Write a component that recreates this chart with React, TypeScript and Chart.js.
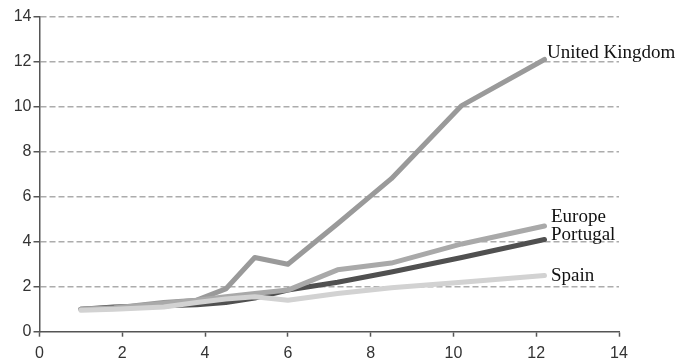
import React, { useEffect, useRef } from "react";
import { Chart, registerables } from "chart.js";

Chart.register(...registerables);

const xValues = [1, 1.8, 3, 3.8, 4.5, 5.2, 6, 7.2, 8.5, 10.2, 12.2];
const seriesNames = ["Spain", "Europe", "United Kingdom", "Portugal"];
const ukValues = [1.0, 1.05, 1.3, 1.4, 1.9, 3.3, 3.0, 4.8, 6.8, 10.05, 12.1];
const europeValues = [1.0, 1.05, 1.25, 1.4, 1.55, 1.7, 1.85, 2.75, 3.05, 3.9, 4.7];
const portugalValues = [1.0, 1.1, 1.15, 1.2, 1.3, 1.5, 1.85, 2.2, 2.65, 3.3, 4.1];
const spainValues = [0.95, 1.0, 1.1, 1.3, 1.45, 1.55, 1.4, 1.7, 1.95, 2.2, 2.5];
const yTickValues = [0, 2, 4, 6, 8, 10, 12, 14];
const xTickValues = [0, 2, 4, 6, 8, 10, 12, 14];

const seriesValues = [spainValues, europeValues, ukValues, portugalValues];
const seriesColors = ["#d2d2d2", "#a9a9a9", "#9a9a9a", "#505050"];
const labelOffsets = [
  [6.5, 6],
  [6.5, -4],
  [2.5, -1.5],
  [6.5, 1],
];

const endLabelPlugin = {
  id: "endLabels",
  afterDatasetsDraw(chart: any) {
    const ctx = chart.ctx;
    ctx.save();
    ctx.font = '19px "Liberation Serif", "Times New Roman", serif';
    ctx.fillStyle = "#111";
    ctx.textAlign = "left";
    ctx.textBaseline = "alphabetic";
    chart.data.datasets.forEach((ds: any, i: number) => {
      const meta = chart.getDatasetMeta(i);
      const pt = meta.data[meta.data.length - 1];
      if (!pt) return;
      const [dx, dy] = labelOffsets[i];
      ctx.fillText(ds.label, pt.x + dx, pt.y + dy);
    });
    ctx.restore();
  },
};

export default function App() {
  const ref = useRef<HTMLCanvasElement>(null);
  useEffect(() => {
    if (!ref.current) return;
    const tickFont = { family: '"Liberation Sans", Arial, sans-serif', size: 16 };
    const chart = new Chart(ref.current, {
      type: "line",
      data: {
        datasets: seriesNames.map((name, i) => ({
          label: name,
          data: xValues.map((x, j) => ({ x, y: seriesValues[i][j] })),
          borderColor: seriesColors[i],
          backgroundColor: seriesColors[i],
          borderWidth: 5,
          pointRadius: 0,
          tension: 0,
          borderCapStyle: "round",
          borderJoinStyle: "round",
          order: i,
        })),
      },
      options: {
        animation: false,
        responsive: false,
        devicePixelRatio: 1,
        layout: { padding: { left: 0, right: 79, top: 16.7, bottom: 0 } },
        plugins: {
          legend: { display: false },
          tooltip: { enabled: false },
          title: { display: false },
        },
        scales: {
          x: {
            type: "linear",
            min: 0,
            max: 14,
            afterBuildTicks: (scale: any) => {
              scale.ticks = xTickValues.map((v) => ({ value: v }));
            },
            afterFit: (scale: any) => {
              scale.height = 32.3;
            },
            ticks: { font: tickFont, color: "#333", padding: 7 },
            grid: {
              drawOnChartArea: false,
              drawTicks: true,
              tickLength: 5,
              tickColor: "#555",
              tickWidth: 1.5,
            },
            border: { display: true, color: "#555", width: 1.5 },
          },
          y: {
            type: "linear",
            min: 0,
            max: 14,
            afterBuildTicks: (scale: any) => {
              scale.ticks = yTickValues.map((v) => ({ value: v }));
            },
            afterFit: (scale: any) => {
              scale.width = 39.5;
            },
            ticks: { font: tickFont, color: "#333", padding: 2 },
            grid: {
              drawOnChartArea: true,
              drawTicks: true,
              tickLength: 6,
              tickColor: "#555",
              tickWidth: 1.5,
              tickBorderDash: [],
              color: (c: any) => (c.tick && c.tick.value === 0 ? "rgba(0,0,0,0)" : "#acacac"),
              lineWidth: 1.5,
            },
            border: { display: true, color: "#555", width: 1.5, dash: [6, 3] },
          },
        },
      },
      plugins: [endLabelPlugin],
    } as any);
    return () => chart.destroy();
  }, []);
  return (
    <div style={{ position: "absolute", left: 0, top: 0, width: 698, height: 364, background: "#fff" }}>
      <canvas ref={ref} width={698} height={364} />
    </div>
  );
}
